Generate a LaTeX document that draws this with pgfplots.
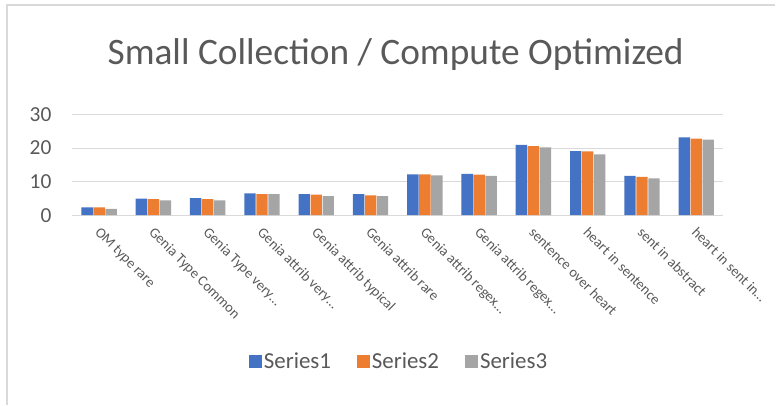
\documentclass[border=0pt]{standalone}
\usepackage{fontspec}
\setmainfont{Carlito}
\usepackage{pgfplots}
\pgfplotsset{compat=1.18}
\definecolor{sA}{HTML}{4472C4}
\definecolor{sB}{HTML}{ED7D31}
\definecolor{sC}{HTML}{A5A5A5}
\definecolor{txt}{HTML}{595959}
\definecolor{grd}{HTML}{D9D9D9}
\pgfplotstableread{
x s1 s2 s3
0 2.3 2.3 1.9
1 4.9 4.8 4.4
2 5.1 4.8 4.4
3 6.5 6.3 6.3
4 6.3 6.1 5.7
5 6.3 5.9 5.7
6 12.2 12.2 11.9
7 12.3 12.1 11.7
8 21.0 20.6 20.2
9 19.1 19.0 18.1
10 11.7 11.4 11.0
11 23.2 22.8 22.5
}\datatable
\begin{document}
\begin{tikzpicture}[x=1bp,y=1bp]
\path (0,0) rectangle (776,405);
\draw[grd, line width=1.2bp] (7,0) -- (7,400) -- (776,400);
\node[text=txt, font=\fontsize{37.5}{42}\selectfont, anchor=base, inner sep=0pt] at (396,340) {Small Collection / Compute Optimized};
\begin{axis}[
  at={(72bp,189.7bp)}, anchor=south west,
  scale only axis, width=652bp, height=100.6bp,
  ymin=0, ymax=30, ytick={0,10,20,30},
  xmin=-0.5, xmax=11.5,
  xtick=data,
  xticklabels={OM type rare, Genia Type Common, Genia Type very\dots, Genia attrib very\dots, Genia attrib typical, Genia attrib rare, Genia attrib regex\dots, Genia attrib regex\dots, sentence over heart, heart in sentence, sent in abstract, heart in sent in\dots},
  ybar=0.6bp, bar width=11.4bp,
  axis line style={draw=none},
  major tick length=0pt,
  ymajorgrids, major grid style={grd, line width=1.2bp},
  tick label style={text=txt},
  /pgf/number format/assume math mode=true,
  yticklabel style={font=\fontsize{21.5}{24}\selectfont, xshift=-17bp},
  xticklabel style={font=\fontsize{14.5}{16}\selectfont, xshift=2bp, yshift=-11bp, rotate=-45, anchor=north west, inner sep=0pt},
  legend style={at={(0.502,-1.455)}, anchor=center, draw=none, legend columns=3,
    font=\fontsize{23}{26}\selectfont, text=txt,
    /tikz/every even column/.append style={column sep=24bp}},
  legend image code/.code={\fill[#1] (0bp,-6.8bp) rectangle (13bp,6.8bp);},
  legend cell align=left,
]
\addplot[fill=sA, draw=none] table[x=x, y=s1] {\datatable};
\addplot[fill=sB, draw=none] table[x=x, y=s2] {\datatable};
\addplot[fill=sC, draw=none] table[x=x, y=s3] {\datatable};
\legend{Series1, Series2, Series3}
\end{axis}
\end{tikzpicture}
\end{document}
